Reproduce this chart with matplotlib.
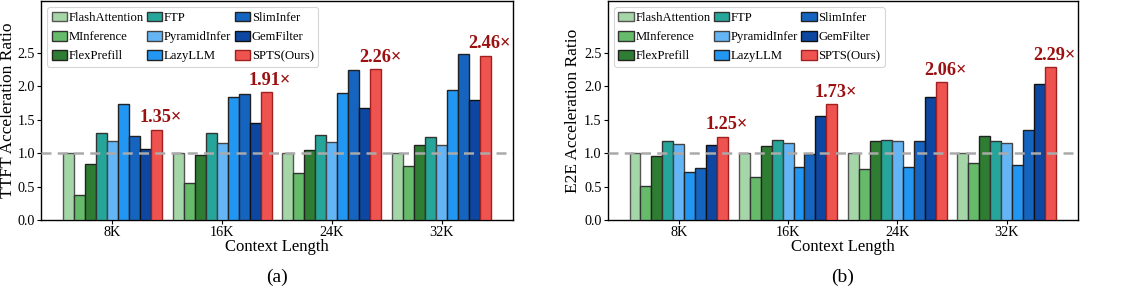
import matplotlib
matplotlib.use("Agg")
import matplotlib.pyplot as plt
import numpy as np

plt.rcParams['font.family'] = ['Liberation Serif', 'DejaVu Serif']

contexts = ["8K", "16K", "24K", "32K"]
methods = ["FlashAttention", "MInference", "FlexPrefill", "FTP", "PyramidInfer",
           "LazyLLM", "SlimInfer", "GemFilter", "SPTS(Ours)"]
colors = ["#a5d6a7", "#66bb6a", "#2e7d32", "#26a69a", "#64b5f6",
          "#2196f3", "#1565c0", "#0d47a1", "#ef5350"]
edges = ["#555555", "#333333", "#222222", "#333333", "#444444",
         "#222222", "#222222", "#111111", "#a02020"]

ttft = {
    "FlashAttention": [1.00, 1.00, 1.00, 1.00],
    "MInference":     [0.38, 0.55, 0.70, 0.81],
    "FlexPrefill":    [0.84, 0.97, 1.05, 1.12],
    "FTP":            [1.31, 1.30, 1.28, 1.24],
    "PyramidInfer":   [1.18, 1.16, 1.17, 1.12],
    "LazyLLM":        [1.73, 1.84, 1.90, 1.94],
    "SlimInfer":      [1.26, 1.88, 2.25, 2.48],
    "GemFilter":      [1.06, 1.46, 1.68, 1.80],
    "SPTS(Ours)":     [1.35, 1.91, 2.26, 2.46],
}
e2e = {
    "FlashAttention": [1.00, 1.00, 1.00, 1.00],
    "MInference":     [0.51, 0.64, 0.76, 0.85],
    "FlexPrefill":    [0.96, 1.11, 1.19, 1.26],
    "FTP":            [1.18, 1.20, 1.20, 1.19],
    "PyramidInfer":   [1.14, 1.16, 1.18, 1.16],
    "LazyLLM":        [0.72, 0.79, 0.79, 0.82],
    "SlimInfer":      [0.78, 0.99, 1.19, 1.35],
    "GemFilter":      [1.13, 1.56, 1.84, 2.03],
    "SPTS(Ours)":     [1.25, 1.73, 2.06, 2.29],
}

fig = plt.figure(figsize=(11.21, 2.94), dpi=100)
ax1 = fig.add_axes([0.0366, 0.2517, 0.4210, 0.7449])
ax2 = fig.add_axes([0.5421, 0.2517, 0.4193, 0.7449])

def draw(ax, data, ylabel, label_x):
    x = np.arange(len(contexts))
    w = 0.1
    n = len(methods)
    for i, m in enumerate(methods):
        off = (i - (n - 1) / 2) * w
        ax.bar(x + off, data[m], width=w, color=colors[i], edgecolor=edges[i],
               linewidth=1.0, label=m, zorder=3)
    spts = data["SPTS(Ours)"]
    off = (n - 1) / 2 * w
    for xi, v in zip(x, spts):
        ax.annotate(f"{v:.2f}\u00d7", (xi + off, v), xytext=(3, 2.5),
                    textcoords="offset points", ha="center", va="bottom",
                    fontsize=13.2, fontweight="bold", color="#9b1010", zorder=5)
    ax.axhline(1.0, color="#aaaaaa", linestyle=(0, (4, 2.5)), linewidth=1.8, zorder=4)
    ax.set_ylim(0, 3.28)
    ax.set_xlim(-0.65, 3.65)
    ax.set_xticks(x)
    ax.set_xticklabels(contexts, fontsize=10.2)
    ax.set_yticks([0, 0.5, 1.0, 1.5, 2.0, 2.5])
    ax.set_yticklabels(["0.0", "0.5", "1.0", "1.5", "2.0", "2.5"], fontsize=10.2)
    ax.tick_params(axis='both', length=3, width=0.8, pad=1.5)
    ax.set_xlabel("Context Length", fontsize=12, labelpad=0)
    ax.set_ylabel(ylabel, fontsize=12.5)
    ax.yaxis.set_label_coords(label_x, 0.5)
    for s in ax.spines.values():
        s.set_linewidth(1.0)
    leg = ax.legend(loc="upper left", ncol=3, fontsize=9.1, frameon=True,
                    handlelength=1.2, handleheight=0.8, handletextpad=0.15,
                    columnspacing=0.25, labelspacing=0.55, borderpad=0.35,
                    borderaxespad=0.5, fancybox=True)
    leg.get_frame().set_edgecolor("#cccccc")
    leg.get_frame().set_linewidth(0.8)

draw(ax1, ttft, "TTFT Acceleration Ratio", -0.052)
draw(ax2, e2e, "E2E Acceleration Ratio", -0.056)

fig.text(0.2471, 0.058, "(a)", ha="center", va="center", fontsize=14)
fig.text(0.7518, 0.058, "(b)", ha="center", va="center", fontsize=14)

fig.savefig("out.png", dpi=100)
